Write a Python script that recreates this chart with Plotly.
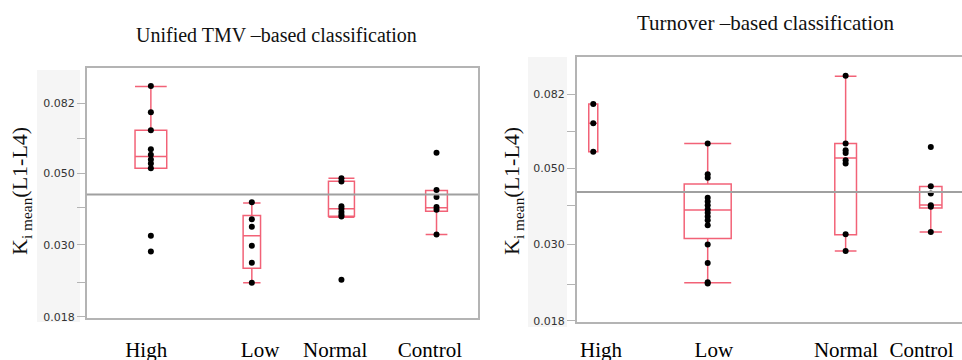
import plotly.graph_objects as go

W, H = 962, 360

# ---------------- data ----------------
categories = ["High", "Low", "Normal", "Control"]

# Panel 1: Unified TMV-based classification
tmv_points = {
    "High":    [0.0929, 0.0770, 0.0678, 0.0592, 0.0569, 0.0551, 0.0535, 0.0517, 0.0320, 0.0286],
    "Low":     [0.0406, 0.0360, 0.0341, 0.0298, 0.0264, 0.0229],
    "Normal":  [0.0482, 0.0471, 0.0395, 0.0388, 0.0379, 0.0372, 0.0367, 0.0234],
    "Control": [0.0578, 0.0443, 0.0422, 0.0393, 0.0385, 0.0323],
}
tmv_q1 = [0.0517, 0.0254, 0.0368, 0.0381]
tmv_median = [0.0562, 0.0320, 0.0388, 0.0391]
tmv_q3 = [0.0678, 0.0370, 0.0472, 0.0442]
tmv_lowerfence = [0.0517, 0.0229, 0.0365, 0.0323]
tmv_upperfence = [0.0925, 0.0404, 0.0482, 0.0442]

# Panel 2: Turnover-based classification
turn_points = {
    "High":    [0.0769, 0.0675, 0.0558],
    "Low":     [0.0590, 0.0480, 0.0469, 0.0410, 0.0400, 0.0390, 0.0380, 0.0371,
                0.0362, 0.0353, 0.0341, 0.0300, 0.0265, 0.0233, 0.0231],
    "Normal":  [0.0929, 0.0590, 0.0564, 0.0553, 0.0527, 0.0516, 0.0321, 0.0287],
    "Control": [0.0576, 0.0443, 0.0422, 0.0390, 0.0386, 0.0326],
}
turn_q1 = [0.0558, 0.0312, 0.0320, 0.0383]
turn_median = [0.0675, 0.0378, 0.0535, 0.0391]
turn_q3 = [0.0769, 0.0450, 0.0590, 0.0442]
turn_lowerfence = [0.0558, 0.0232, 0.0287, 0.0326]
turn_upperfence = [0.0769, 0.0590, 0.0925, 0.0442]

grand_mean = [0.0429, 0.0426]

y_tickvals = [0.018, 0.030, 0.050, 0.082]
y_ticktext = ["0.018", "0.030", "0.050", "0.082"]
y_minor = [0.023, 0.039, 0.064]

titles = ["Unified TMV \u2013based classification", "Turnover \u2013based classification"]
y_title = "K<sub>i mean</sub>(L1-L4)"

# ---------------- layout geometry (pixels) ----------------
# group positions / widths along each x axis (0..1), mimicking JMP proportional widths
tmv_pos = [0.164, 0.422, 0.651, 0.894]
tmv_width = [0.081, 0.0445, 0.0664, 0.0555]
tmv_label_pos = [0.152, 0.443, 0.635, 0.877]
turn_pos = [0.043, 0.340, 0.698, 0.919]
turn_width = [0.0234, 0.122, 0.0563, 0.0579]
turn_label_pos = [0.063, 0.356, 0.699, 0.895]

BOX_COLOR = "rgba(240,70,95,0.85)"
AX_COLOR = "#b4b4b4"
SERIF = "Liberation Serif, Times New Roman, serif"
SANS = "DejaVu Sans, Arial, sans-serif"

fig = go.Figure()

def add_panel(xa, ya, pts, pos, width, q1, med, q3, lf, uf):
    for i, c in enumerate(categories):
        fig.add_trace(go.Box(
            x=[pos[i]], q1=[q1[i]], median=[med[i]], q3=[q3[i]],
            lowerfence=[lf[i]], upperfence=[uf[i]],
            width=width[i], whiskerwidth=1, boxpoints=False,
            line=dict(color=BOX_COLOR, width=1.5),
            fillcolor="rgba(0,0,0,0)",
            xaxis=xa, yaxis=ya, showlegend=False, hoverinfo="skip",
        ))
        fig.add_trace(go.Scatter(
            x=[pos[i]] * len(pts[c]), y=pts[c], mode="markers",
            marker=dict(color="black", size=6),
            xaxis=xa, yaxis=ya, showlegend=False,
        ))

add_panel("x", "y", tmv_points, tmv_pos, tmv_width, tmv_q1, tmv_median, tmv_q3,
          tmv_lowerfence, tmv_upperfence)
add_panel("x2", "y2", turn_points, turn_pos, turn_width, turn_q1, turn_median, turn_q3,
          turn_lowerfence, turn_upperfence)

def px_x(p):
    return p / W

def px_y(p):
    return (H - p) / H

def xaxis_cfg(domain, tickpos, standoff):
    return dict(
        domain=domain, range=[0, 1], showgrid=False, zeroline=False,
        showline=True, linecolor=AX_COLOR, linewidth=1.5, mirror=True,
        tickvals=tickpos, ticktext=categories, ticks="",
        tickfont=dict(family=SERIF, size=21, color="black"),
        ticklabelstandoff=standoff, automargin=False,
    )

def yaxis_cfg(domain, rng, anchor):
    return dict(
        domain=domain, type="log", range=rng, anchor=anchor,
        showgrid=False, zeroline=False, automargin=False,
        showline=True, linecolor=AX_COLOR, linewidth=1.5, mirror=True,
        tickvals=y_tickvals, ticktext=y_ticktext,
        ticks="outside", ticklen=8, tickcolor=AX_COLOR, tickwidth=1,
        tickfont=dict(family=SANS, size=11, color="#333333"),
        minor=dict(tickvals=y_minor, ticks="outside", ticklen=8,
                   tickcolor=AX_COLOR, tickwidth=1),
    )

fig.update_layout(
    width=W, height=H, margin=dict(l=0, r=0, t=0, b=0, autoexpand=False),
    paper_bgcolor="white", plot_bgcolor="white",
    xaxis=xaxis_cfg([px_x(86.7), px_x(478)], tmv_label_pos, 12),
    yaxis=yaxis_cfg([px_y(318), px_y(68)], [-1.7487, -0.9766], "x"),
    xaxis2=xaxis_cfg([px_x(576.7), 1.0], turn_label_pos, 8),
    yaxis2=yaxis_cfg([px_y(321.7), px_y(57.3)], [-1.7476, -0.9786], "x2"),
)
fig.layout.xaxis.anchor = "y"
fig.layout.xaxis2.anchor = "y2"

# light grey band behind y tick labels
fig.add_shape(type="rect", xref="paper", yref="paper",
              x0=px_x(37), x1=px_x(80), y0=px_y(322), y1=px_y(70),
              fillcolor="#f5f5f5", line=dict(width=0), layer="below")
fig.add_shape(type="rect", xref="paper", yref="paper",
              x0=px_x(528), x1=px_x(567), y0=px_y(327), y1=px_y(57),
              fillcolor="#f5f5f5", line=dict(width=0), layer="below")

# grand mean reference lines
fig.add_shape(type="line", xref="x domain", yref="y", x0=0, x1=1,
              y0=grand_mean[0], y1=grand_mean[0], line=dict(color="#a0a0a0", width=2))
fig.add_shape(type="line", xref="x2 domain", yref="y2", x0=0, x1=1,
              y0=grand_mean[1], y1=grand_mean[1], line=dict(color="#a0a0a0", width=2))

# titles
fig.add_annotation(text=titles[0], xref="paper", yref="paper",
                   x=px_x(276.5), y=px_y(35), xanchor="center", yanchor="middle",
                   showarrow=False, font=dict(family=SERIF, size=20, color="#111111"))
fig.add_annotation(text=titles[1], xref="paper", yref="paper",
                   x=px_x(765.5), y=px_y(23), xanchor="center", yanchor="middle",
                   showarrow=False, font=dict(family=SERIF, size=21, color="#111111"))

# y axis titles
for xc in (21, 513):
    fig.add_annotation(text=y_title, xref="paper", yref="paper",
                       x=px_x(xc), y=px_y(191), xanchor="center", yanchor="middle",
                       showarrow=False, textangle=-90,
                       font=dict(family=SERIF, size=22, color="#111111"))

fig.write_html("out.html")
